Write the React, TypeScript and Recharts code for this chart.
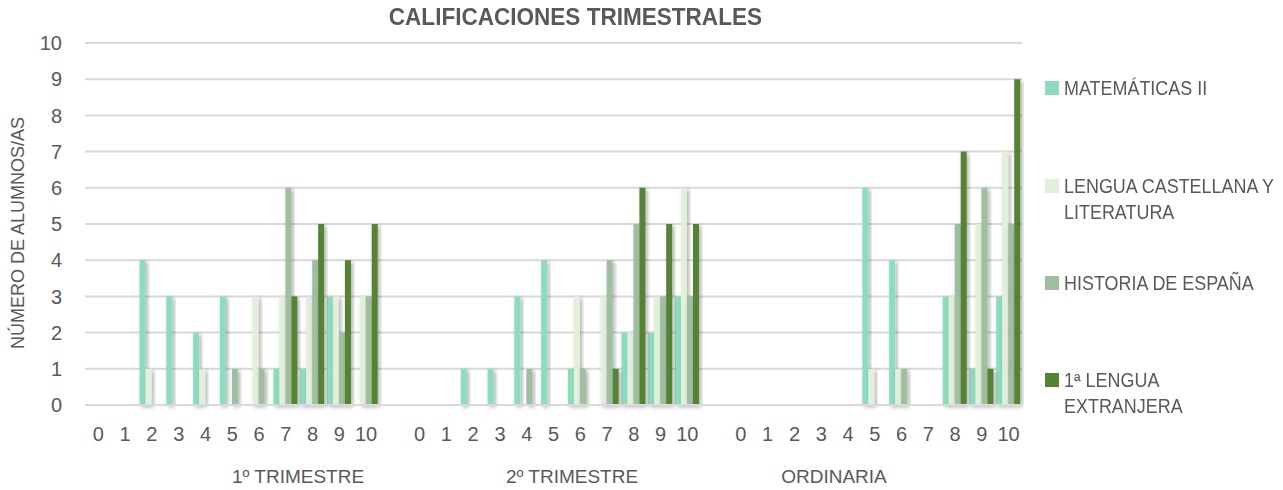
import React from "react";
import { BarChart, Bar, XAxis, YAxis, CartesianGrid } from "recharts";

const grades = ["0", "1", "2", "3", "4", "5", "6", "7", "8", "9", "10"];
const groups = ["1º TRIMESTRE", "2º TRIMESTRE", "ORDINARIA"];

const matematicas = [
  [0, 0, 4, 3, 2, 3, 0, 1, 1, 3, 0],
  [0, 0, 1, 1, 3, 4, 1, 0, 2, 2, 3],
  [0, 0, 0, 0, 0, 6, 4, 0, 3, 1, 3],
];
const lengua = [
  [0, 0, 1, 0, 1, 0, 3, 3, 3, 3, 3],
  [0, 0, 0, 0, 0, 0, 3, 3, 2, 3, 6],
  [0, 0, 0, 0, 0, 1, 1, 0, 3, 5, 7],
];
const historia = [
  [0, 0, 0, 0, 0, 1, 1, 6, 4, 2, 3],
  [0, 0, 0, 0, 1, 0, 1, 4, 5, 3, 3],
  [0, 0, 0, 0, 0, 0, 1, 0, 5, 6, 5],
];
const extranjera = [
  [0, 0, 0, 0, 0, 0, 0, 3, 5, 4, 5],
  [0, 0, 0, 0, 0, 0, 0, 1, 6, 5, 5],
  [0, 0, 0, 0, 0, 0, 0, 0, 7, 1, 9],
];

const seriesNames = [
  "MATEMÁTICAS II",
  "LENGUA CASTELLANA Y LITERATURA",
  "HISTORIA DE ESPAÑA",
  "1ª LENGUA EXTRANJERA",
];
const colors = ["#8DDCC0", "#E2EFDA", "#A0BEA0", "#548235"];
const yTicks = [0, 1, 2, 3, 4, 5, 6, 7, 8, 9, 10];

type Row = { key: string; grade: string; group: string; mat: number | null; len: number | null; his: number | null; ext: number | null };

const data: Row[] = [];
groups.forEach((g, gi) => {
  grades.forEach((gr, i) => {
    data.push({
      key: `${gi}-${gr}`,
      grade: gr,
      group: g,
      mat: matematicas[gi][i],
      len: lengua[gi][i],
      his: historia[gi][i],
      ext: extranjera[gi][i],
    });
  });
  if (gi < groups.length - 1) {
    data.push({ key: `sep-${gi}`, grade: "", group: "", mat: null, len: null, his: null, ext: null });
  }
});

const FONT = "'Liberation Sans', Arial, sans-serif";
const TXT = "#595959";

const legendTops = [75, 173, 270, 367];
const legendLines = [["MATEMÁTICAS II"], ["LENGUA CASTELLANA Y", "LITERATURA"], ["HISTORIA DE ESPAÑA"], ["1ª LENGUA", "EXTRANJERA"]];

const groupCenters = [298, 572, 834];

export default function App() {
  const keys = ["mat", "len", "his", "ext"];
  return (
    <div style={{ position: "relative", width: 1283, height: 490, background: "#fff", fontFamily: FONT }}>
      <style>{`body{margin:0}`}</style>
      <div
        style={{
          position: "absolute",
          left: 0,
          width: 1150,
          top: 4,
          textAlign: "center",
          fontWeight: "bold",
          fontSize: 23,
          color: TXT,
        }}
      >
        <span style={{ display: "inline-block", transform: "scaleX(0.98)" }}>CALIFICACIONES TRIMESTRALES</span>
      </div>
      <div
        style={{
          position: "absolute",
          left: 18,
          top: 233,
          transform: "translate(-50%, -50%) rotate(-90deg)",
          whiteSpace: "nowrap",
          fontSize: 18,
          color: TXT,
        }}
      >
        NÚMERO DE ALUMNOS/AS
      </div>
      {groups.map((g, i) => (
        <div
          key={g}
          style={{
            position: "absolute",
            left: groupCenters[i],
            top: 466,
            transform: "translateX(-50%)",
            whiteSpace: "nowrap",
            fontSize: 19,
            color: TXT,
          }}
        >
          {g}
        </div>
      ))}
      <div style={{ position: "absolute", left: 1045, top: 0, width: 238, height: 490 }}>
        {seriesNames.map((n, i) => (
          <div key={n} style={{ position: "absolute", left: 0, top: legendTops[i], display: "flex", alignItems: "flex-start" }}>
            <div style={{ width: 14, height: 14, background: colors[i], marginTop: 6, marginRight: 5, flex: "none" }} />
            <div
              style={{
                color: TXT,
                fontSize: 19.5,
                lineHeight: "26px",
                whiteSpace: "nowrap",
                transform: "scaleX(0.92)",
                transformOrigin: "left center",
              }}
            >
              {legendLines[i].map((l) => (
                <div key={l}>{l}</div>
              ))}
            </div>
          </div>
        ))}
      </div>
      <BarChart
        width={1283}
        height={490}
        data={data}
        margin={{ top: 43, right: 261, bottom: 0, left: 25 }}
        barCategoryGap={1}
        barGap={0}
        style={{ position: "absolute", left: 0, top: 0 }}
      >
        <defs>
          <filter id="barShadow" x="-60%" y="-10%" width="220%" height="130%">
            <feDropShadow dx="2" dy="2" stdDeviation="2" floodColor="#000" floodOpacity="0.32" />
          </filter>
        </defs>
        <CartesianGrid vertical={false} stroke="#D9D9D9" strokeWidth={2} />
        <XAxis
          dataKey="grade"
          interval={0}
          tickLine={false}
          axisLine={{ stroke: "#D9D9D9", strokeWidth: 2 }}
          tick={{ fill: TXT, fontSize: 20, fontFamily: FONT }}
          tickMargin={16}
          height={85}
        />
        <YAxis
          domain={[0, 10]}
          ticks={yTicks}
          interval={0}
          tickLine={false}
          axisLine={false}
          tick={{ fill: TXT, fontSize: 20, fontFamily: FONT }}
          tickMargin={17}
          width={60}
        />
        {keys.map((k, i) => (
          <Bar
            key={k}
            dataKey={k}
            name={seriesNames[i]}
            fill={colors[i]}
            filter="url(#barShadow)"
            isAnimationActive={false}
          />
        ))}
      </BarChart>
    </div>
  );
}
